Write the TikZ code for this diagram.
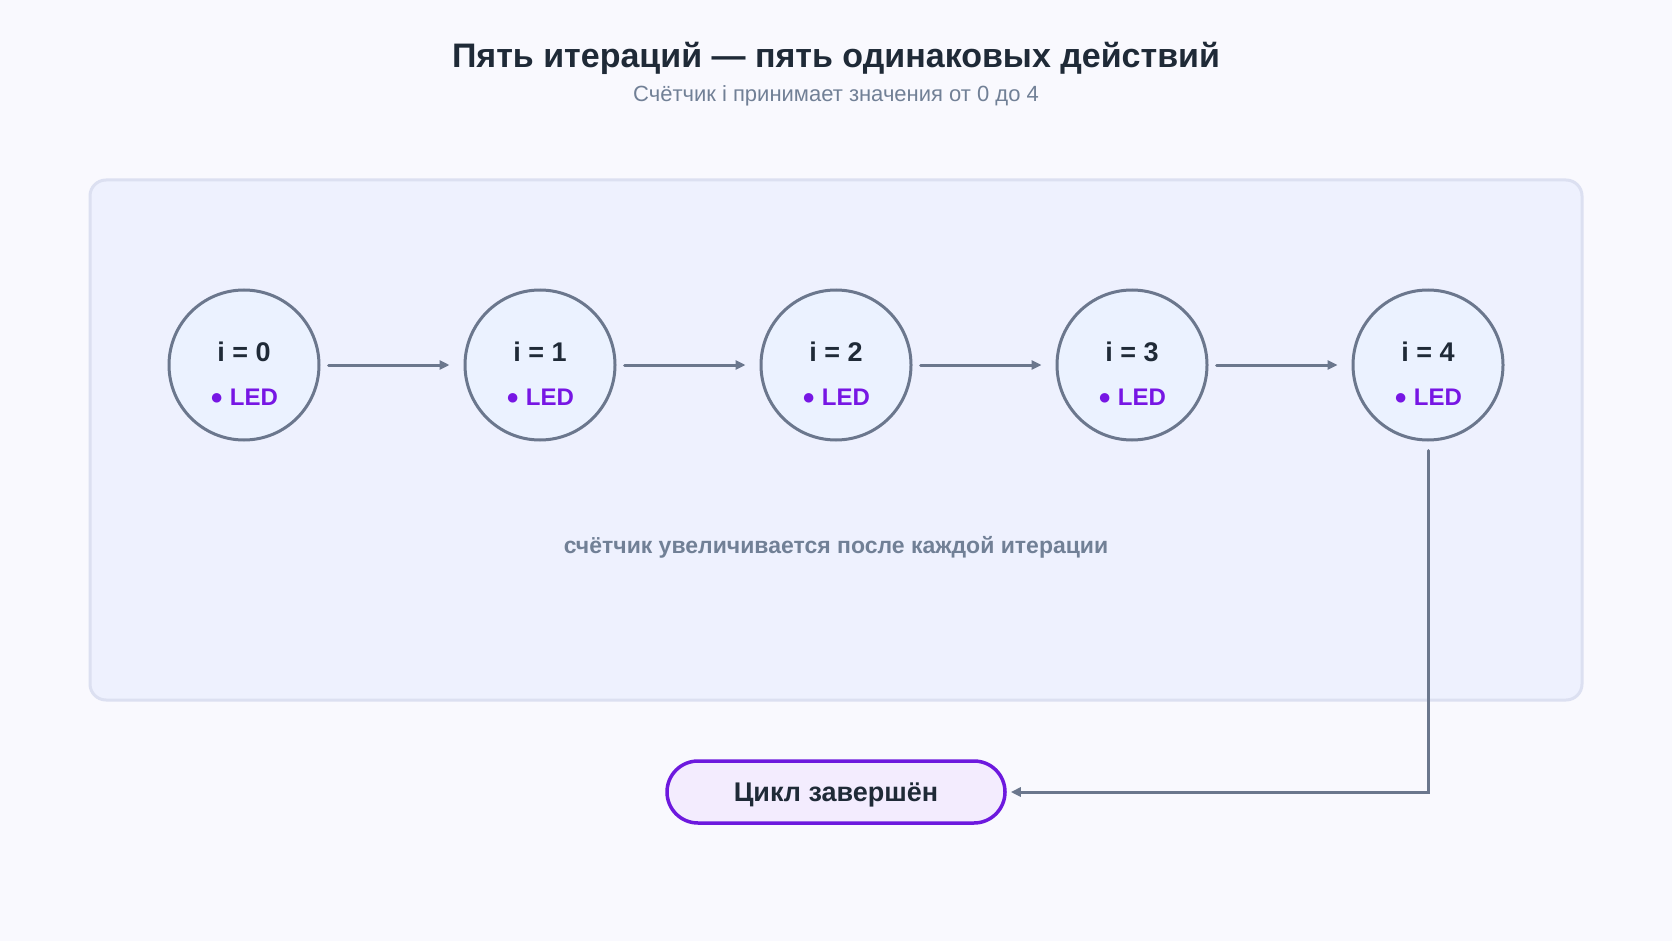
\documentclass[tikz,border=0pt]{standalone}
\usepackage{fontspec}
\setmainfont{Liberation Sans}
\usetikzlibrary{arrows.meta,positioning}
\definecolor{bgc}{HTML}{F9F9FE}
\definecolor{panelfill}{HTML}{EEF1FE}
\definecolor{panelline}{HTML}{DCE0F1}
\definecolor{slate}{HTML}{6B778D}
\definecolor{circfill}{HTML}{EBF2FF}
\definecolor{darktext}{HTML}{1F2A37}
\definecolor{purp}{HTML}{7716E4}
\definecolor{purpline}{HTML}{6D19DE}
\definecolor{pillfill}{HTML}{F3ECFE}
\definecolor{subgray}{HTML}{718096}
\tikzset{
  iter/.style={circle, draw=slate, line width=3pt, fill=circfill, minimum size=150pt, inner sep=0pt},
  flow/.style={draw=slate, line width=3pt, -{Triangle[length=10pt,width=9pt]}, line cap=round},
  pill/.style={rounded corners=31pt, draw=purpline, line width=3.5pt, fill=pillfill, minimum width=338pt, minimum height=62pt},
  pilltext/.style={font=\bfseries\fontsize{27}{32}\selectfont, text=darktext},
}
\begin{document}
\begin{tikzpicture}[x=1pt,y=-1pt]
\fill[bgc] (0,0) rectangle (1672,941);
\useasboundingbox (0,0) rectangle (1672,941);
\node[font=\bfseries\fontsize{34}{40}\selectfont, text=darktext] (title) at (836,58) {Пять итераций — пять одинаковых действий};
\node[font=\fontsize{22}{26}\selectfont, text=subgray] (sub) at (836,96) {Счётчик i принимает значения от 0 до 4};
\draw[panelline, line width=3pt, fill=panelfill, rounded corners=16pt] (90,180) rectangle (1582,700);
\foreach \k/\x in {0/244,1/540,2/836,3/1132,4/1428}{
  \node[iter] (c\k) at (\x,365) {};
  \node[font=\bfseries\fontsize{27}{32}\selectfont, text=darktext] (t\k) at (\x,352) {i = \k};
  \node[font=\bfseries\fontsize{24}{28}\selectfont, text=purp] (l\k) at (\x,397) {{\fontsize{22}{24}\selectfont\raisebox{1pt}{●}} LED};
}
\foreach \a/\b in {0/1,1/2,2/3,3/4}{
  \draw[flow] ([xshift=8pt]c\a.east) -- ([xshift=-14pt]c\b.west);
}
\node[font=\bfseries\fontsize{23}{27}\selectfont, text=subgray] (note) at (836,547) {счётчик увеличивается после каждой итерации};
\node[pill] (done) at (836,792) {};
\node[pilltext] (donetext) at (836,795) {Цикл завершён};
\coordinate (corner) at (1428,792);
\draw[flow] ([yshift=-9pt]c4.south) -- (corner) -- ([xshift=4pt]done.east);
\end{tikzpicture}
\end{document}
